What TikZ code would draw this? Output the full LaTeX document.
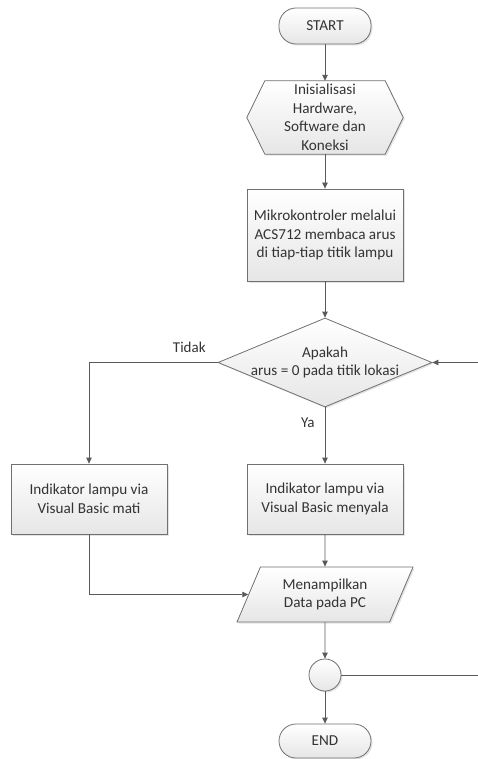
\documentclass[tikz,border=0pt]{standalone}
\usepackage{fontspec}
\setmainfont{Carlito}
\usetikzlibrary{shapes.geometric,shapes.misc,shadows,arrows.meta,backgrounds}
\definecolor{linec}{HTML}{5A5A5A}
\definecolor{borderc}{HTML}{707070}
\definecolor{txtc}{HTML}{333333}
\definecolor{fillb}{HTML}{E6E6E6}
\begin{document}
\begin{tikzpicture}[x=1pt,y=-1pt,
  font=\fontsize{15.2}{18.5}\selectfont, text=txtc,
  shade1/.style={top color=white, bottom color=fillb, draw=borderc, line width=0.8pt,
     drop shadow={opacity=0.22, shadow xshift=1.5pt, shadow yshift=-1.5pt}},
  procbox/.style={shade1, rectangle, minimum width=156pt, minimum height=#1, align=center, inner sep=0pt},
  termbox/.style={shade1, rectangle, rounded corners=17pt, minimum width=92pt, minimum height=#1, inner sep=0pt},
  decbox/.style={shade1, diamond, minimum width=214pt, minimum height=89pt, inner sep=0pt},
  iobox/.style={shade1, trapezium, trapezium left angle=64, trapezium right angle=116,
     trapezium stretches=true, minimum width=176pt, minimum height=55pt, align=center, inner sep=0pt},
  conn/.style={shade1, circle, minimum size=32pt, inner sep=0pt},
  flow/.style={draw=linec, line width=0.8pt, -{Triangle[length=6pt,width=5.5pt]}},
  lbl/.style={font=\fontsize{15}{18}\selectfont, inner sep=0pt}
]
\useasboundingbox (0,0) rectangle (478,759);

\node[termbox=36pt] (start) at (325,26) {START};

\node[rectangle, minimum width=156pt, minimum height=73pt, align=center, inner sep=0pt] (hw) at (325,117.5)
  {Inisialisasi\\Hardware,\\Software dan\\Koneksi};
\begin{scope}[on background layer]
\path[shade1] ([xshift=18pt]hw.north west) -- ([xshift=-18pt]hw.north east) -- (hw.east)
  -- ([xshift=-18pt]hw.south east) -- ([xshift=18pt]hw.south west) -- (hw.west) -- cycle;
\end{scope}

\node[procbox=92pt] (read) at (325,235) {Mikrokontroler melalui\\ACS712 membaca arus\\di tiap-tiap titik lampu};

\node[decbox, label={[align=center, font=\fontsize{15.2}{18.5}\selectfont]center:Apakah\\arus = 0 pada titik lokasi}] (dec) at (325,362.5) {};

\node[procbox=70pt] (off) at (89,499) {Indikator lampu via\\Visual Basic mati};
\node[procbox=70pt] (on) at (325,499) {Indikator lampu via\\Visual Basic menyala};

\node[iobox] (show) at (325,594.5) {Menampilkan\\Data pada PC};

\node[conn] (join) at (325,675) {};

\node[termbox=34pt] (end) at (325,741) {END};

\coordinate (outR) at (478,675);
\coordinate (inR) at (478,362.5);

\draw[flow] (start) -- (hw);
\draw[flow] (hw) -- (read);
\draw[flow] (read) -- (dec);
\draw[flow] (dec.west) -| (off.north) node[pos=0.11, above=9pt, lbl] {Tidak};
\draw[flow] (dec) -- (on) node[pos=0.28, left=10pt, lbl] {Ya};
\draw[flow] (on) -- (show);
\draw[flow] (off.south) |- (show.west);
\draw[flow] (show) -- (join);
\draw[flow] (join) -- (end);
\draw[draw=linec, line width=0.8pt] (join) -- (outR);
\draw[flow] (inR) -- (dec.east);
\end{tikzpicture}
\end{document}
